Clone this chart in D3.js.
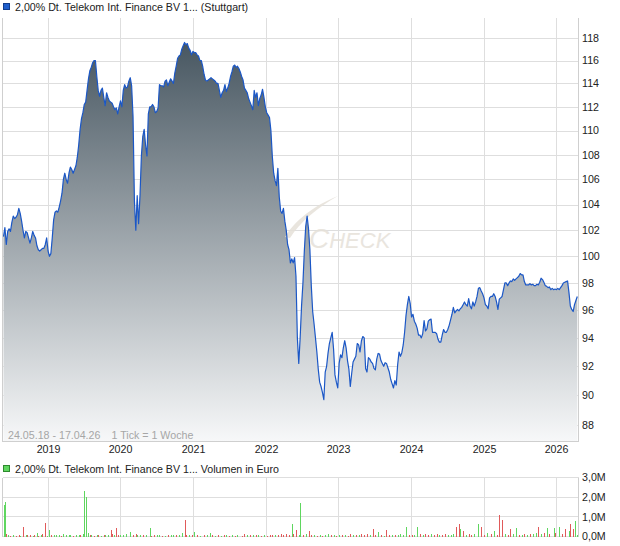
<!DOCTYPE html>
<html>
<head>
<meta charset="utf-8">
<script src="https://d3js.org/d3.v7.min.js"></script>
<style>
    body{margin:0;background:#fff;}
    svg text{font-family:"Liberation Sans",Arial,sans-serif;font-size:10.67px;fill:#222;}
</style>
</head>
<body>
<svg id="chart" width="620" height="546"></svg>
<script>
"use strict";
//----------------------------------------
//Data: weekly closes, 24.05.18 - 17.04.26 (1 Tick = 1 Woche)
var startDate = "2018-05-24",
    endDate = "2026-04-17";

var closes = [
    101.5,102.2,100.9,101.9,102.1,101.9,102.6,103.1,102.9,103.0,103.2,103.7,103.3,102.7,102.0,101.4,101.9,101.8,101.4,101.0,
    101.4,101.9,101.6,101.4,100.8,100.5,100.4,100.5,100.6,100.6,100.9,101.4,100.4,100.0,100.2,101.4,102.8,103.4,103.5,103.4,
    103.8,104.3,104.9,106.0,106.5,106.0,105.7,106.5,107.0,106.8,106.5,106.8,107.1,107.8,108.8,110.1,111.0,111.5,112.2,112.4,
    113.4,114.4,115.1,115.4,115.8,116.0,116.0,114.6,113.4,112.9,113.4,113.6,112.8,112.1,113.2,112.8,112.5,112.4,112.3,112.0,
    111.75,111.9,111.4,112.0,112.5,112.0,113.4,113.9,113.6,113.7,114.2,114.5,113.8,111.2,104.3,102.0,104.7,102.5,104.7,107.9,
    109.5,110.1,108.8,107.9,111.4,112.0,112.0,112.2,112.0,111.5,111.6,111.9,113.9,113.8,113.8,113.7,114.2,114.3,113.8,114.1,
    114.4,114.2,114.0,114.9,115.5,116.2,116.4,116.5,117.0,117.3,117.6,117.4,117.5,117.1,116.9,116.5,116.8,116.7,116.7,116.5,
    116.4,116.0,116.0,115.5,114.8,114.3,114.2,114.3,114.4,114.5,114.4,114.3,114.2,114.0,114.0,113.4,112.8,113.2,113.4,113.9,
    113.3,113.6,114.0,114.6,115.0,115.5,115.6,115.4,115.5,115.3,115.0,114.6,114.3,113.6,113.4,113.2,112.7,112.4,112.1,111.75,
    113.4,112.8,113.2,112.1,112.7,113.0,113.5,112.8,112.0,111.5,111.3,111.1,110.0,107.9,106.5,105.9,105.5,106.9,104.6,103.5,
    103.3,103.7,102.7,102.0,100.9,100.5,99.5,99.8,99.5,99.9,98.5,94.0,92.2,94.0,96.3,98.0,100.4,102.3,103.1,102.1,
    100.5,97.8,95.9,95.0,94.0,93.0,91.8,90.9,90.6,90.2,89.7,91.6,92.0,92.9,93.6,94.0,94.4,93.2,91.4,90.9,
    90.5,92.2,92.8,92.6,93.3,93.8,93.3,92.4,91.8,90.6,91.5,92.3,92.5,92.7,93.6,93.5,93.0,93.8,94.1,94.0,
    91.85,91.6,92.6,92.5,92.3,92.2,91.85,91.75,92.5,92.9,92.85,92.4,92.2,92.0,92.25,92.2,91.9,91.6,91.1,90.8,
    90.5,91.0,90.7,92.1,93.0,92.7,92.95,93.5,94.4,95.6,96.4,97.0,96.5,95.5,95.7,95.2,95.0,94.7,94.2,94.2,
    94.0,94.3,95.25,94.5,94.65,95.2,95.3,95.35,94.4,94.4,94.4,94.3,93.9,93.7,93.7,94.2,94.6,94.4,94.4,94.6,
    94.9,95.3,95.7,96.2,95.8,95.95,96.05,95.95,96.1,96.2,96.4,96.6,96.4,96.3,96.85,96.3,96.1,96.6,96.3,96.6,
    97.0,97.6,97.65,97.4,97.2,96.9,96.4,96.3,96.1,96.9,97.0,97.0,97.2,97.0,96.6,96.05,96.8,96.9,97.0,97.5,
    98.0,98.0,97.8,98.0,98.15,98.1,98.3,98.2,98.3,98.4,98.5,98.7,98.6,98.6,98.1,97.85,97.85,97.85,97.95,97.85,
    97.9,97.8,97.8,97.9,97.85,98.05,98.35,98.25,98.05,97.8,97.75,97.65,97.7,97.5,97.6,97.5,97.55,97.5,97.6,97.5,
    97.65,97.8,98.0,98.05,98.1,98.15,97.3,96.3,96.05,95.9,96.4,96.7,97.0
];

//Volume in Mio. Euro, by week index (weeks without a visible bar left out)
var volWeeks = [0,1,2,3,5,7,9,11,12,14,16,17,19,21,22,24,25,27,28,30,31,33,34,36,38,40,41,43,45,47,48,50,52,54,55,57,58,59,61,62,
    63,65,67,68,70,72,73,75,77,78,79,81,82,84,86,88,91,93,95,96,98,100,102,105,106,108,110,112,114,116,118,120,122,124,126,128,130,131,133,135,
    137,139,141,144,146,148,150,152,154,156,158,160,162,164,166,168,171,173,175,177,179,181,183,185,187,189,191,193,195,197,199,201,203,205,207,208,210,212,213,215,
    217,219,221,223,225,227,229,231,233,235,237,239,241,243,245,247,249,251,253,255,257,259,261,263,265,267,269,271,273,275,277,279,281,283,285,287,289,291,293,295,
    297,299,301,303,305,307,309,311,313,315,317,319,321,323,325,327,328,330,332,334,336,338,341,343,345,347,350,352,354,356,358,360,362,364,366,368,370,372,374,376,
    378,380,382,384,386,388,390,392,395,396,399,401,403,406,407,409,410,412];
var volumes = [1.6,1.77,0.12,0.1,0.05,0.06,0.04,0.08,0.05,0.5,0.08,0.06,0.1,0.05,0.08,0.2,0.05,0.1,0.12,0.7,0.05,0.35,0.06,0.08,0.06,0.1,0.05,0.12,0.08,0.06,0.1,0.05,0.07,0.09,0.06,0.12,2.32,2.02,0.2,0.08,
    0.1,0.05,0.06,0.08,0.05,0.06,0.1,0.06,0.35,0.12,0.08,0.45,0.1,0.06,0.1,0.12,0.22,0.1,0.15,0.08,0.1,0.08,0.06,0.43,0.05,0.1,0.06,0.08,0.04,0.05,0.1,0.06,0.08,0.1,0.06,0.2,0.84,0.1,0.06,0.1,
    0.25,0.08,0.05,0.06,0.1,0.2,0.08,0.05,0.06,0.05,0.08,0.06,0.05,0.08,0.05,0.06,0.05,0.15,0.06,0.1,0.08,0.06,0.1,0.05,0.06,0.04,0.06,0.1,0.08,0.06,0.12,0.1,0.15,0.1,0.63,0.15,0.35,0.1,1.71,0.1,
    0.12,0.28,0.08,0.1,0.05,0.06,0.04,0.08,0.12,0.06,0.1,0.05,0.08,0.06,0.1,0.05,0.15,0.08,0.1,0.06,0.12,0.08,0.15,0.1,0.4,0.08,0.25,0.1,0.05,0.35,0.1,0.08,0.06,0.1,0.12,0.1,0.5,0.1,0.08,0.1,
    0.5,0.15,0.1,0.12,0.08,0.15,0.1,0.12,0.08,0.1,0.12,0.08,0.1,0.15,0.47,0.63,0.38,0.3,0.1,0.12,0.1,0.15,0.63,0.5,0.1,0.2,0.15,0.3,0.1,1.09,0.84,0.15,0.1,0.4,0.12,0.45,0.1,0.08,0.12,0.1,
    0.15,0.12,0.2,0.5,0.15,0.2,0.45,0.15,0.45,0.2,0.5,0.15,0.4,0.3,0.63,0.4,0.8,0.1];
var volUp = [1,1,0,1,0,1,0,0,1,0,1,0,0,1,0,1,0,1,0,0,1,1,0,1,1,1,0,1,1,1,1,0,1,1,0,1,1,1,1,0,
    1,0,1,0,1,0,1,1,0,0,1,0,0,1,1,1,1,0,0,1,1,0,1,1,0,0,1,1,0,1,0,1,1,0,1,1,0,0,1,0,
    1,0,1,0,1,1,0,1,0,1,0,1,0,1,0,1,0,0,1,0,1,0,1,0,1,0,0,0,1,0,0,0,0,0,1,0,0,1,1,0,
    1,0,0,1,0,1,0,1,1,0,1,0,1,0,1,0,0,1,0,1,0,0,0,1,0,0,1,0,1,0,0,1,0,1,1,1,1,0,0,1,
    1,0,1,0,0,1,0,0,1,0,0,1,1,1,0,0,1,0,1,0,0,1,1,0,0,1,0,1,0,0,0,1,0,0,1,1,0,1,0,1,
    0,1,1,0,1,0,1,0,1,0,1,0,0,1,0,0,1,1];

var priceTicks = [88,90,92,94,96,98,100,102,104,106,108,110,112,114,116,118];
var volTicks = [0,1,2,3],
    volTickLabels = ["0,0M","1,0M","2,0M","3,0M"];
var yearLabels = ["2019","2020","2021","2022","2023","2024","2025","2026"];

var titleText = "2,00% Dt. Telekom Int. Finance BV 1... (Stuttgart)",
    volTitleText = "2,00% Dt. Telekom Int. Finance BV 1... Volumen in Euro",
    rangeText = "24.05.18 - 17.04.26",
    tickText = "1 Tick = 1 Woche";

//----------------------------------------
//Layout
var plot = {left:2.5, right:578.5, top:18, bottom:441.5},
    vol = {top:477.5, bottom:536.5},
    colours = {grid:"#dedede", frame:"#cfcfcf", line:"#1b57c6", up:"#5fd65f", down:"#e05a5a"};

var parseDate = d3.timeParse("%Y-%m-%d"),
    start = parseDate(startDate),
    weekDate = function(i){ return d3.timeDay.offset(start, 7 * i); };

var x = d3.scaleTime()
    .domain([start, parseDate(endDate)])
    .range([3.5, 577.5]);
var y = d3.scaleLog()
    .domain([86.9, 119.8])
    .range([plot.bottom, plot.top]);
var yVol = d3.scaleLinear()
    .domain([0, 3])
    .range([vol.bottom, vol.top]);

var svg = d3.select("#chart");
var crisp = function(v){ return Math.round(v) + 0.5; };
var yearX = yearLabels.map(function(d){ return crisp(x(new Date(+d, 0, 1))); });

//Gradient for the price area
var grad = svg.append("defs").append("linearGradient")
    .attr("id","fillGrad")
    .attr("gradientUnits","userSpaceOnUse")
    .attr("x1",0).attr("x2",0)
    .attr("y1",plot.top).attr("y2",plot.bottom);
grad.append("stop").attr("offset",0).attr("stop-color","#3d4d58");
grad.append("stop").attr("offset",1).attr("stop-color","#f7f8f9");

svg.select("defs").append("clipPath").attr("id","plotClip")
    .append("rect")
    .attr("x",plot.left).attr("y",plot.top)
    .attr("width",plot.right - plot.left).attr("height",plot.bottom - plot.top);

//----------------------------------------
//Title legend
svg.append("rect")
    .attr("x",3.5).attr("y",3.5).attr("width",6).attr("height",6)
    .style("fill","#1f5fcc").style("stroke","#123d8c");
svg.append("text").attr("x",15).attr("y",10.5).text(titleText);

//Price grid
var grid = svg.append("g").style("shape-rendering","crispEdges");
grid.selectAll("line.h").data(priceTicks).enter().append("line")
    .attr("x1",plot.left).attr("x2",plot.right)
    .attr("y1",function(d){ return crisp(y(d)); })
    .attr("y2",function(d){ return crisp(y(d)); })
    .style("stroke",colours.grid);
grid.selectAll("line.v").data(yearX).enter().append("line")
    .attr("x1",function(d){ return d; }).attr("x2",function(d){ return d; })
    .attr("y1",plot.top).attr("y2",plot.bottom)
    .style("stroke",colours.grid);

//Price area + line
var area = d3.area()
    .x(function(d,i){ return x(weekDate(i)); })
    .y0(plot.bottom)
    .y1(function(d){ return y(d); });
var line = d3.line()
    .x(function(d,i){ return x(weekDate(i)); })
    .y(function(d){ return y(d); });

var plotG = svg.append("g").attr("clip-path","url(#plotClip)");
plotG.append("path").datum(closes)
    .attr("d",area)
    .style("fill","url(#fillGrad)");

//Watermark
var wm = plotG.append("g").style("opacity",0.85);
wm.append("path")
    .attr("d","M285,237 C295,220 315,205 338,196 C318,207 300,222 290,238 Z")
    .style("fill","#e6e1d9");
wm.append("text")
    .attr("x",309).attr("y",248)
    .style("font-style","italic")
    .style("fill","#e6e1d9")
    .style("font-size","28px")
    .text("C")
    .append("tspan").style("font-size","22px").text("HECK");

plotG.append("path").datum(closes)
    .attr("d",line)
    .style("fill","none")
    .style("stroke",colours.line)
    .style("stroke-width",1.2)
    .style("stroke-linejoin","round");

//Frame
svg.append("path")
    .attr("d","M" + plot.left + "," + plot.top + "V" + plot.bottom + "H" + plot.right + "V" + plot.top)
    .style("fill","none").style("stroke",colours.frame)
    .style("shape-rendering","crispEdges");

//Range text
svg.append("text").attr("x",8).attr("y",438.5).style("fill","#a6a6a6").text(rangeText);
svg.append("text").attr("x",111.5).attr("y",438.5).style("fill","#a6a6a6").text(tickText);

//Price labels
svg.selectAll("text.pl").data(priceTicks).enter().append("text")
    .attr("class","pl")
    .attr("x",582)
    .attr("y",function(d){ return y(d) + 3.8; })
    .text(function(d){ return d; });

//Year labels
svg.selectAll("text.yr").data(yearLabels).enter().append("text")
    .attr("class","yr")
    .attr("x",function(d,i){ return yearX[i]; })
    .attr("y",453)
    .style("text-anchor","middle")
    .text(function(d){ return d; });

//----------------------------------------
//Volume panel
svg.append("rect")
    .attr("x",3.5).attr("y",465.5).attr("width",6).attr("height",6)
    .style("fill",colours.up).style("stroke","#2e8a2e");
svg.append("text").attr("x",15).attr("y",472.5).text(volTitleText);

var vgrid = svg.append("g").style("shape-rendering","crispEdges");
vgrid.selectAll("line.h").data(volTicks).enter().append("line")
    .attr("x1",plot.left).attr("x2",plot.right)
    .attr("y1",function(d){ return yVol(d); })
    .attr("y2",function(d){ return yVol(d); })
    .style("stroke",colours.grid);
vgrid.selectAll("line.v").data(yearX).enter().append("line")
    .attr("x1",function(d){ return d; }).attr("x2",function(d){ return d; })
    .attr("y1",vol.top).attr("y2",vol.bottom)
    .style("stroke",colours.grid);
vgrid.append("path")
    .attr("d","M" + plot.left + "," + vol.top + "V" + vol.bottom + "M" + plot.right + "," + vol.top + "V" + vol.bottom)
    .style("fill","none").style("stroke",colours.frame);

svg.append("g").style("shape-rendering","crispEdges")
    .selectAll("rect").data(volWeeks).enter().append("rect")
    .attr("x",function(d){ return Math.round(x(weekDate(d))) - 0.5; })
    .attr("width",1)
    .attr("y",function(d,i){ return yVol(volumes[i]); })
    .attr("height",function(d,i){ return yVol(0) - yVol(volumes[i]); })
    .style("fill",function(d,i){ return volUp[i] ? colours.up : colours.down; });

svg.selectAll("text.vl").data(volTicks).enter().append("text")
    .attr("class","vl")
    .attr("x",582)
    .attr("y",function(d){ return yVol(d) + 3.8; })
    .text(function(d,i){ return volTickLabels[i]; });
</script>
</body>
</html>
